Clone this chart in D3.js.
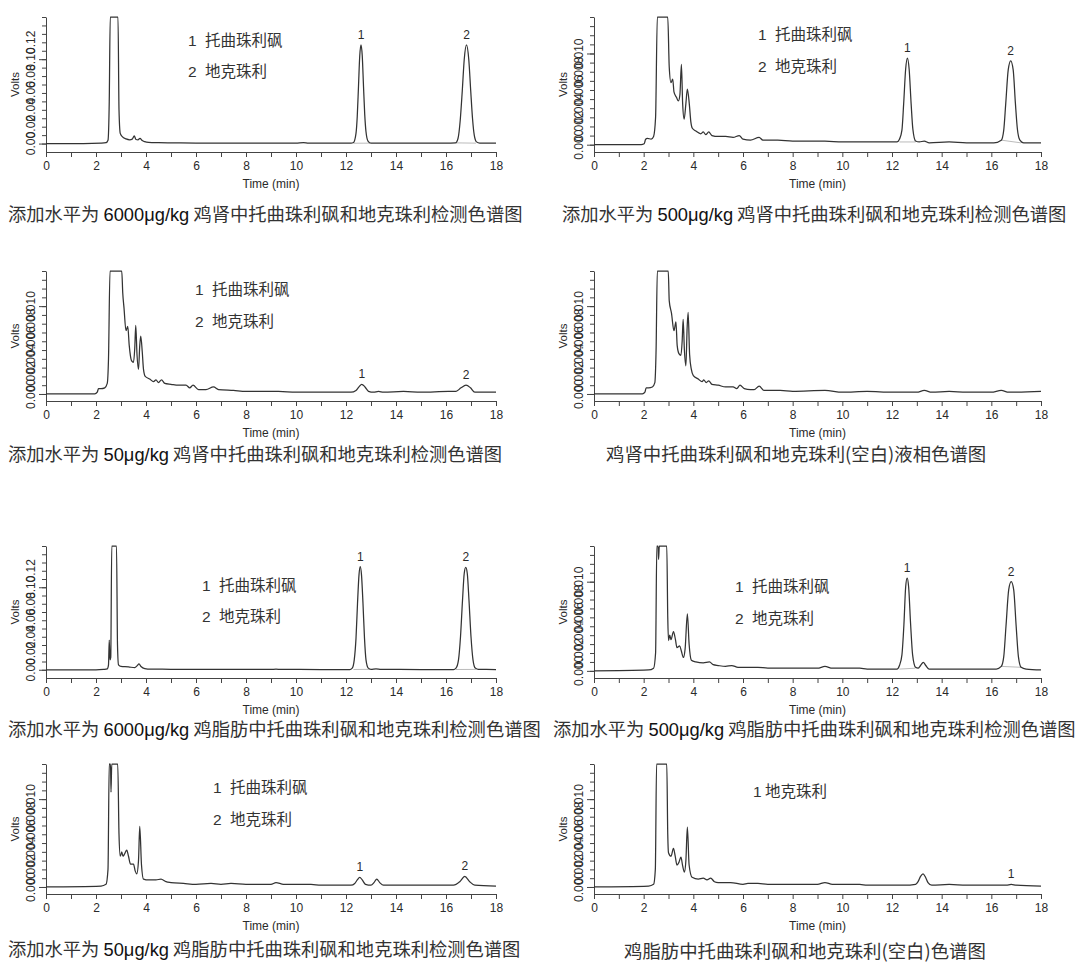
<!DOCTYPE html>
<html><head><meta charset="utf-8">
<script src="https://cdn.jsdelivr.net/npm/d3@7"></script>
<style>body{margin:0;background:#fff}svg{display:block}</style>
</head><body><svg id="c" width="1080" height="969"></svg>
<script>
// ---------------- DATA ----------------
const xTickValues = [0,1,2,3,4,5,6,7,8,9,10,11,12,13,14,15,16,17,18];
const xTickLabels = [0,2,4,6,8,10,12,14,16,18];

const yDomainHigh = [-0.01, 0.15];
const yTicksHigh = [0,0.01,0.02,0.03,0.04,0.05,0.06,0.07,0.08,0.09,0.10,0.11,0.12,0.13,0.14,0.15];
const yMajorHigh = [0, 0.10];
const yLabelsHigh = ["0.00","0.02","0.04","0.06","0.08","0.10","0.12"];

const yDomainLow = [-0.0008, 0.014];
const yTicksLow = [0,0.001,0.002,0.003,0.004,0.005,0.006,0.007,0.008,0.009,0.010,0.011,0.012,0.013,0.014];
const yMajorLow = [0, 0.010];
const yLabelsLow = ["0.000","0.002","0.004","0.006","0.008","0.010"];

// traces: [time (min), volts]
const kidney6000 = [[0,0],[1.5,0],[2.2,0.0005],[2.4,0.001],[2.48,0.004],[2.53,0.05],[2.57,0.2],[2.88,0.2],[2.92,0.04],[2.97,0.012],[3.05,0.0082],[3.2,0.0055],[3.35,0.0045],[3.45,0.0052],[3.53,0.0091],[3.6,0.0048],[3.68,0.0045],[3.76,0.0062],[3.85,0.0035],[3.95,0.0022],[4.1,0.0014],[4.5,0.001],[5,0.0008],[6,0.0006],[7,0.0005],[8,0.0005],[9,0.0005],[10,0.0006],[10.3,0.0011],[10.5,0.0005],[11.5,0.0004],[12.2,0.0004],[12.3,0.0012],[12.4,0.012],[12.45,0.032],[12.5,0.068],[12.55,0.104],[12.6,0.117],[12.65,0.104],[12.7,0.068],[12.75,0.034],[12.8,0.014],[12.88,0.003],[13,0.0005],[14,0.0004],[15,0.0004],[16,0.0004],[16.38,0.0008],[16.48,0.006],[16.57,0.028],[16.65,0.062],[16.73,0.1],[16.82,0.117],[16.91,0.1],[16.99,0.062],[17.06,0.03],[17.13,0.01],[17.22,0.002],[17.35,0.0005],[18,0.0004]];

const kidney500 = [[0,0],[1.9,0],[2.02,0.0001],[2.08,0.0006],[2.15,0.0007],[2.3,0.0006],[2.4,0.0009],[2.48,0.003],[2.55,0.02],[2.97,0.02],[3.03,0.0085],[3.1,0.0068],[3.17,0.0072],[3.22,0.0058],[3.32,0.0052],[3.4,0.0048],[3.46,0.0055],[3.52,0.0088],[3.57,0.0045],[3.63,0.0028],[3.7,0.0045],[3.76,0.0061],[3.84,0.0044],[3.9,0.0025],[3.96,0.0018],[4.1,0.0015],[4.3,0.0012],[4.4,0.0014],[4.5,0.0011],[4.62,0.0014],[4.75,0.001],[5,0.0009],[5.3,0.0009],[5.6,0.0008],[5.85,0.001],[6.0,0.0006],[6.3,0.0005],[6.65,0.0008],[6.8,0.0005],[7.4,0.0005],[8,0.0004],[9.3,0.0004],[10,0.0003],[11,0.0003],[12.2,0.0003],[12.3,0.0006],[12.4,0.0016],[12.47,0.0045],[12.55,0.0083],[12.62,0.0095],[12.69,0.0083],[12.77,0.0045],[12.84,0.0017],[12.95,0.0004],[13.1,0.0003],[13.3,0.0004],[13.5,0.0002],[14.3,0.0003],[15,0.0002],[16.1,0.0002],[16.4,0.0005],[16.5,0.0016],[16.58,0.0045],[16.68,0.0082],[16.78,0.0092],[16.88,0.0082],[16.97,0.0045],[17.05,0.0017],[17.15,0.0005],[17.3,0.0002],[18,0.0002]];

const kidney50 = [[0,0],[1.95,0],[2.05,0.0002],[2.1,0.0006],[2.2,0.0006],[2.35,0.0007],[2.45,0.0012],[2.5,0.004],[2.56,0.02],[3.03,0.02],[3.07,0.0115],[3.12,0.0098],[3.2,0.0072],[3.27,0.0077],[3.33,0.0055],[3.42,0.0038],[3.5,0.0036],[3.55,0.0052],[3.59,0.0078],[3.64,0.0045],[3.7,0.0028],[3.75,0.0055],[3.79,0.0066],[3.85,0.0048],[3.9,0.0028],[3.97,0.002],[4.15,0.0017],[4.3,0.0014],[4.4,0.0016],[4.5,0.0013],[4.62,0.0016],[4.75,0.0012],[5,0.0011],[5.3,0.001],[5.6,0.001],[5.75,0.0007],[5.88,0.001],[6.1,0.0005],[6.4,0.0005],[6.7,0.0008],[6.9,0.0005],[7.5,0.0004],[8,0.0003],[9.3,0.0003],[10,0.0002],[11,0.0002],[12.2,0.0002],[12.4,0.0004],[12.52,0.0008],[12.63,0.0011],[12.76,0.0008],[12.9,0.0003],[13.1,0.0002],[13.3,0.0003],[13.5,0.0002],[14.3,0.0003],[15,0.0002],[16.1,0.0003],[16.4,0.0003],[16.6,0.0007],[16.8,0.001],[16.98,0.0007],[17.15,0.0002],[18,0.0002]];

const kidneyBlank = [[0,0],[1.95,0],[2.05,0.0002],[2.1,0.0007],[2.2,0.0007],[2.35,0.0008],[2.45,0.0013],[2.5,0.005],[2.55,0.02],[2.99,0.02],[3.03,0.0106],[3.12,0.0092],[3.22,0.0072],[3.3,0.0082],[3.35,0.0055],[3.42,0.0046],[3.5,0.0044],[3.55,0.006],[3.59,0.0085],[3.64,0.005],[3.7,0.0032],[3.75,0.0075],[3.79,0.0093],[3.85,0.0045],[3.92,0.0028],[4.0,0.0021],[4.2,0.0017],[4.35,0.0014],[4.42,0.0016],[4.52,0.0013],[4.62,0.0015],[4.75,0.0011],[5,0.001],[5.3,0.0008],[5.6,0.0008],[5.75,0.0006],[5.88,0.001],[6.05,0.0006],[6.3,0.0005],[6.45,0.0005],[6.65,0.0009],[6.85,0.0004],[7.5,0.0004],[8,0.0003],[9.3,0.0004],[10,0.0002],[11,0.0003],[12,0.0002],[13,0.0002],[13.3,0.0004],[13.6,0.0002],[14.3,0.0003],[15,0.0002],[16,0.0002],[16.4,0.0004],[16.7,0.0002],[18,0.0003]];

const fat6000 = [[0,0],[2.0,0],[2.3,0.0005],[2.45,0.001],[2.5,0.006],[2.53,0.036],[2.56,0.012],[2.59,0.015],[2.63,0.2],[2.82,0.2],[2.86,0.03],[2.9,0.006],[3.0,0.004],[3.3,0.0035],[3.55,0.0025],[3.65,0.005],[3.72,0.007],[3.8,0.004],[3.95,0.0015],[4.2,0.0008],[5,0.0006],[7,0.0004],[9,0.0005],[9.2,0.0007],[9.4,0.0004],[11,0.0003],[12.15,0.0003],[12.25,0.002],[12.33,0.012],[12.4,0.038],[12.46,0.08],[12.52,0.115],[12.57,0.125],[12.62,0.115],[12.68,0.08],[12.74,0.038],[12.8,0.012],[12.89,0.002],[13,0.0005],[13.2,0.0012],[13.4,0.0004],[15,0.0003],[16.3,0.0003],[16.4,0.002],[16.5,0.012],[16.58,0.04],[16.66,0.084],[16.73,0.117],[16.79,0.124],[16.85,0.117],[16.92,0.084],[17.0,0.04],[17.08,0.012],[17.17,0.002],[17.3,0.0004],[18,0.0003]];

const fat500 = [[0,0],[2.2,0.0001],[2.4,0.0003],[2.48,0.002],[2.53,0.02],[2.58,0.02],[2.6,0.0125],[2.63,0.02],[2.93,0.02],[2.97,0.006],[3.0,0.0034],[3.05,0.004],[3.1,0.0035],[3.2,0.0044],[3.28,0.0035],[3.34,0.0026],[3.45,0.0028],[3.52,0.0022],[3.6,0.0015],[3.67,0.0025],[3.76,0.0064],[3.83,0.003],[3.92,0.0012],[4.1,0.001],[4.4,0.0009],[4.65,0.001],[4.8,0.0007],[5.0,0.0006],[5.3,0.0005],[5.55,0.0006],[5.8,0.0004],[6.2,0.0004],[6.6,0.0004],[7,0.0003],[8,0.0003],[9,0.0003],[9.3,0.0005],[9.6,0.0003],[10.7,0.0003],[11,0.0002],[12.2,0.0002],[12.3,0.0006],[12.4,0.0018],[12.48,0.0052],[12.55,0.0094],[12.61,0.0104],[12.67,0.0094],[12.75,0.0052],[12.83,0.0018],[12.95,0.0004],[13.05,0.0003],[13.15,0.0006],[13.26,0.00095],[13.36,0.0006],[13.5,0.0002],[14.3,0.0002],[16.2,0.0002],[16.4,0.0005],[16.5,0.0016],[16.59,0.005],[16.7,0.0091],[16.8,0.01],[16.9,0.0091],[17.0,0.005],[17.09,0.0016],[17.2,0.0004],[17.4,0.0002],[18,0.0001]];

const fat50 = [[0,0],[2.2,0.0001],[2.4,0.0003],[2.48,0.002],[2.53,0.02],[2.58,0.02],[2.6,0.0108],[2.63,0.02],[2.87,0.02],[2.92,0.006],[2.97,0.0035],[3.03,0.004],[3.08,0.0035],[3.15,0.0038],[3.23,0.0042],[3.3,0.0035],[3.38,0.0026],[3.5,0.0026],[3.57,0.0018],[3.63,0.0015],[3.7,0.003],[3.75,0.0069],[3.82,0.0025],[3.9,0.0009],[4.1,0.0008],[4.4,0.0008],[4.6,0.0009],[4.8,0.0006],[5,0.0005],[5.5,0.0004],[6,0.0003],[6.6,0.0004],[7,0.0003],[7.4,0.0004],[8,0.0003],[9.0,0.0003],[9.2,0.0005],[9.5,0.0003],[10.6,0.0003],[11,0.0002],[12.2,0.0002],[12.35,0.0004],[12.45,0.0008],[12.55,0.0011],[12.65,0.0008],[12.78,0.0003],[13.0,0.0002],[13.12,0.0005],[13.23,0.0009],[13.35,0.0005],[13.5,0.0002],[14.5,0.0002],[16.3,0.0002],[16.55,0.0006],[16.75,0.0012],[16.95,0.0006],[17.15,0.0002],[18,0.0001]];

const fatBlank = [[0,0],[2.2,0.0001],[2.4,0.0003],[2.47,0.002],[2.52,0.02],[2.93,0.02],[2.97,0.006],[3.0,0.0039],[3.1,0.0035],[3.2,0.0044],[3.27,0.0035],[3.34,0.0025],[3.42,0.0028],[3.5,0.0034],[3.57,0.0024],[3.64,0.0017],[3.7,0.003],[3.76,0.0068],[3.83,0.0025],[3.95,0.0011],[4.2,0.0009],[4.4,0.001],[4.55,0.0008],[4.7,0.001],[4.85,0.0006],[5,0.0005],[5.5,0.0005],[6,0.0003],[6.2,0.0004],[6.6,0.0004],[7,0.0003],[7.4,0.0003],[8,0.0003],[9,0.0003],[9.3,0.0005],[9.6,0.0003],[10.7,0.0003],[11,0.0002],[12.5,0.0002],[12.95,0.0003],[13.05,0.0006],[13.15,0.0012],[13.25,0.0015],[13.35,0.0011],[13.45,0.0005],[13.6,0.0002],[14.3,0.0003],[15,0.0002],[16.6,0.0002],[16.8,0.0003],[17,0.0002],[18,0.0001]];

// peak labels [time, label]
const peaksKidney6000 = [[12.6,"1"],[16.82,"2"]];
const peaksKidney500 = [[12.62,"1"],[16.78,"2"]];
const peaksKidney50 = [[12.63,"1"],[16.8,"2"]];
const peaksKidneyBlank = [];
const peaksFat6000 = [[12.57,"1"],[16.79,"2"]];
const peaksFat500 = [[12.61,"1"],[16.8,"2"]];
const peaksFat50 = [[12.55,"1"],[16.75,"2"]];
const peaksFatBlank = [[16.8,"1"]];

// integration baselines under the analyte peaks [start, end]
const baselineSegs = [[12.3,12.95],[16.4,17.2]];

const legendTwo = [["1","托曲珠利砜"],["2","地克珠利"]];
const legendOne = [["1","地克珠利"]];

const captions = [
  ["添加水平为 ","6000μg/kg"," 鸡肾中托曲珠利砜和地克珠利检测色谱图"],
  ["添加水平为 ","500μg/kg"," 鸡肾中托曲珠利砜和地克珠利检测色谱图"],
  ["添加水平为 ","50μg/kg"," 鸡肾中托曲珠利砜和地克珠利检测色谱图"],
  ["鸡肾中托曲珠利砜和地克珠利(空白)液相色谱图"],
  ["添加水平为 ","6000μg/kg"," 鸡脂肪中托曲珠利砜和地克珠利检测色谱图"],
  ["添加水平为 ","500μg/kg"," 鸡脂肪中托曲珠利砜和地克珠利检测色谱图"],
  ["添加水平为 ","50μg/kg"," 鸡脂肪中托曲珠利砜和地克珠利检测色谱图"],
  ["鸡脂肪中托曲珠利砜和地克珠利(空白)色谱图"]
];

const xTitle = "Time (min)";
const yTitle = "Volts";

// ---------------- LAYOUT ----------------
const cols = [[46,496],[594,1041]];
const rows = [[17,152],[271,401],[546,678],[764,894]];
const LAT = "'Liberation Sans', Arial, sans-serif";
const CJK = "'Noto Sans CJK SC', 'Noto Sans', sans-serif";

const panels = [
  {trace:kidney6000, c:0, r:0, high:true,  peaks:peaksKidney6000, segs:true, legend:legendTwo, lx:188, ly:46, lgap:17, lsp:31, cap:captions[0], cx:8,   cy:221, cs:18.3},
  {trace:kidney500,  c:1, r:0, high:false, peaks:peaksKidney500,  segs:true, legend:legendTwo, lx:758, ly:40, lgap:17, lsp:32, cap:captions[1], cx:562, cy:221, cs:18.3},
  {trace:kidney50,   c:0, r:1, high:false, peaks:peaksKidney50,   segs:false, legend:legendTwo, lx:195, ly:295, lgap:17, lsp:32, cap:captions[2], cx:8,  cy:461, cs:18.3},
  {trace:kidneyBlank,c:1, r:1, high:false, peaks:peaksKidneyBlank,segs:false, legend:[], lx:0, ly:0, lgap:0, lsp:0, cap:captions[3], cx:606, cy:461, cs:18.4},
  {trace:fat6000,    c:0, r:2, high:true,  peaks:peaksFat6000,    segs:true, legend:legendTwo, lx:202, ly:591, lgap:17, lsp:31, cap:captions[4], cx:8,   cy:736, cs:18.3},
  {trace:fat500,     c:1, r:2, high:false, peaks:peaksFat500,     segs:true, legend:legendTwo, lx:735, ly:592, lgap:17, lsp:32, cap:captions[5], cx:553, cy:736, cs:18.3},
  {trace:fat50,      c:0, r:3, high:false, peaks:peaksFat50,      segs:false, legend:legendTwo, lx:213, ly:793, lgap:17, lsp:32, cap:captions[6], cx:8,  cy:956, cs:18.3},
  {trace:fatBlank,   c:1, r:3, high:false, peaks:peaksFatBlank,   segs:false, legend:legendOne, lx:753, ly:797, lgap:12, lsp:0, cap:captions[7], cx:624, cy:958, cs:18.4}
];

const svg = d3.select("#c");
const AX = "#444";
const TX = "#2a2a2a";

panels.forEach(p => {
  const [x0,x1] = cols[p.c];
  const [yt,yb] = rows[p.r];
  const x = d3.scaleLinear().domain([0,18]).range([x0,x1]);
  const y = d3.scaleLinear().domain(p.high ? yDomainHigh : yDomainLow).range([yb,yt]).clamp(true);
  const g = svg.append("g");

  // y axis minor + major ticks
  const yAxisMinor = d3.axisLeft(y).tickValues(p.high ? yTicksHigh : yTicksLow).tickSize(4).tickSizeOuter(0).tickFormat("");
  const ga = g.append("g").attr("transform",`translate(${x0},0)`).call(yAxisMinor);
  const yAxisMajor = d3.axisLeft(y).tickValues(p.high ? yMajorHigh : yMajorLow).tickSize(7).tickSizeOuter(0).tickFormat("");
  const gb = g.append("g").attr("transform",`translate(${x0},0)`).call(yAxisMajor);
  gb.select(".domain").remove();
  [ga,gb].forEach(s => { s.selectAll("line,path").attr("stroke",AX).attr("stroke-width",1); });

  // y labels rotated (they overlap, as in the original)
  const labs = p.high ? yLabelsHigh : yLabelsLow;
  g.selectAll(".ylab").data(labs).join("text")
    .attr("transform", d => `translate(${x0-11},${y(+d)}) rotate(-90)`)
    .attr("text-anchor","middle")
    .attr("font-family",LAT).attr("font-size",12).attr("fill",TX)
    .text(d => d);

  // y title
  g.append("text").attr("transform",`translate(${x0-27},${(yt+yb)/2}) rotate(-90)`)
    .attr("text-anchor","middle").attr("font-family",LAT).attr("font-size",11.5).attr("fill",TX).text(yTitle);

  // x axis
  const xAxis = d3.axisBottom(x).tickValues(xTickValues).tickSize(5).tickSizeOuter(0)
    .tickFormat(d => xTickLabels.includes(d) ? d : "").tickPadding(4);
  const gx = g.append("g").attr("transform",`translate(0,${yb})`).call(xAxis);
  gx.selectAll("line,path").attr("stroke",AX).attr("stroke-width",1);
  gx.selectAll("text").attr("font-family",LAT).attr("font-size",12).attr("fill",TX);

  g.append("text").attr("x",(x0+x1)/2).attr("y",yb+36).attr("text-anchor","middle")
    .attr("font-family",LAT).attr("font-size",12).attr("fill",TX).text(xTitle);

  // integration baselines
  if (p.segs) {
    const valAt = t => d3.min(p.trace.filter(q => Math.abs(q[0]-t) <= 0.16), q => q[1]);
    g.selectAll(".seg").data(baselineSegs).join("line")
      .attr("x1",d=>x(d[0])).attr("x2",d=>x(d[1]))
      .attr("y1",d=>y(valAt(d[0]))).attr("y2",d=>y(valAt(d[1])))
      .attr("stroke","#aaa").attr("stroke-width",0.8);
  }

  // trace
  const line = d3.line().x(d=>x(d[0])).y(d=>y(d[1])).curve(d3.curveMonotoneX);
  g.append("path").datum(p.trace).attr("d",line).attr("fill","none")
    .attr("stroke","#333").attr("stroke-width",1.25).attr("stroke-linejoin","round");

  // peak labels
  g.selectAll(".pk").data(p.peaks).join("text")
    .attr("x",d=>x(d[0]))
    .attr("y",d=>{ const near = p.trace.filter(q=>Math.abs(q[0]-d[0])<=0.12); return y(d3.max(near,q=>q[1]))-6; })
    .attr("text-anchor","middle").attr("font-family",LAT).attr("font-size",12).attr("fill",TX)
    .text(d=>d[1]);

  // legend
  p.legend.forEach((it,i) => {
    const t = g.append("text").attr("x",p.lx).attr("y",p.ly+i*p.lsp).attr("fill","#333").attr("font-size",15.5);
    t.append("tspan").attr("font-family",LAT).text(it[0]);
    t.append("tspan").attr("x",p.lx+p.lgap).attr("font-family",CJK).text(it[1]);
  });

  // caption
  const ct = svg.append("text").attr("x",p.cx).attr("y",p.cy).attr("font-size",p.cs).attr("fill","#333");
  p.cap.forEach((s,i) => {
    ct.append("tspan").attr("font-family", i===1 ? LAT : CJK).attr("fill", i===1 ? "#111" : "#333")
      .attr("xml:space","preserve").text(s);
  });
});
</script>
</body></html>
